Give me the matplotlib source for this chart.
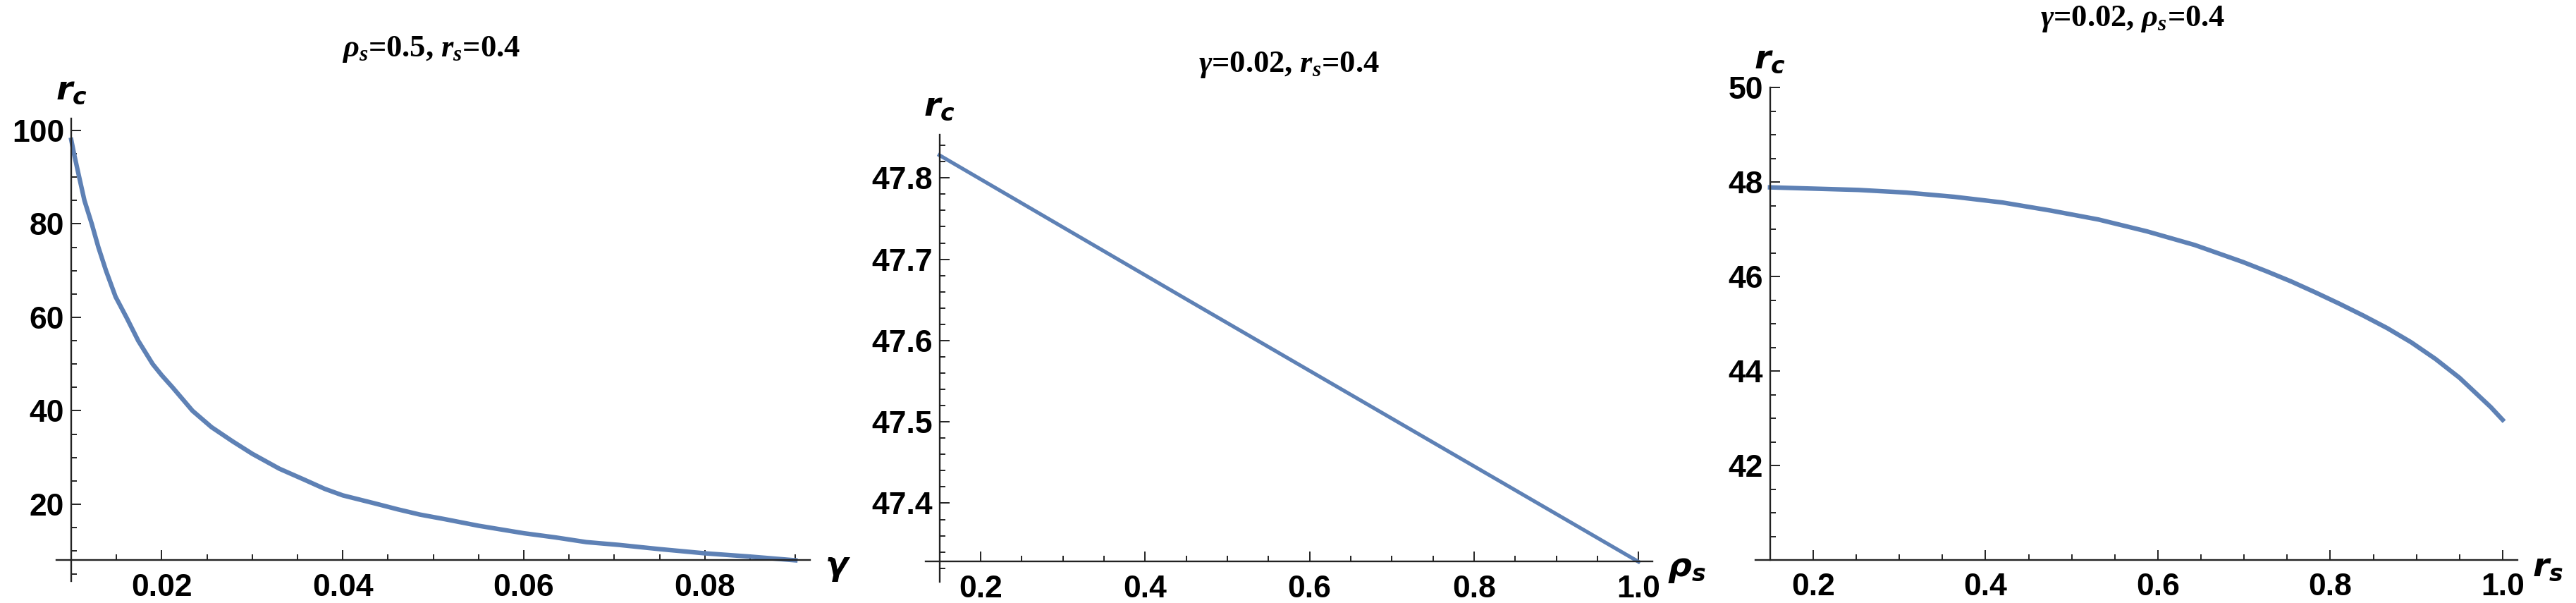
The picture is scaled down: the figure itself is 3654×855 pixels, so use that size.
import matplotlib
matplotlib.use("Agg")
import matplotlib.pyplot as plt
from matplotlib.ticker import FixedLocator, MultipleLocator

# data read off the reference
# panel 1: rho_s = 0.5, r_s = 0.4
gamma = [0.010, 0.01031, 0.01088, 0.01146, 0.01227, 0.01300, 0.01384, 0.0149, 0.0161,
         0.0174, 0.0190, 0.0200, 0.0212, 0.0234, 0.0255, 0.0278, 0.0300, 0.0330,
         0.0357, 0.0380, 0.0400, 0.0435, 0.0461, 0.0485, 0.0513, 0.0550, 0.0600,
         0.0635, 0.0669, 0.0705, 0.0750, 0.0800, 0.0850, 0.0900]
rc_gamma = [98.0, 95.0, 90.0, 85.0, 80.0, 75.0, 70.0, 64.4, 60.0,
            55.0, 50.0, 47.6, 45.0, 40.0, 36.5, 33.5, 30.8, 27.6,
            25.3, 23.3, 21.9, 20.2, 18.9, 17.8, 16.8, 15.4, 13.8,
            12.9, 11.9, 11.3, 10.4, 9.5, 8.8, 8.0]

# panel 2: gamma = 0.02, r_s = 0.4
rho_s = [0.15, 0.45, 1.0]
rc_rho = [47.828, 47.651, 47.328]

# panel 3: gamma = 0.02, rho_s = 0.4
r_s = [0.15, 0.2521, 0.308, 0.3638, 0.4196, 0.4754, 0.531, 0.5871, 0.6428, 0.6987,
       0.7266, 0.7545, 0.7824, 0.8103, 0.838, 0.8662, 0.894, 0.922, 0.950, 0.9862, 1.0]
rc_rs = [47.89, 47.836, 47.78, 47.69, 47.57, 47.40, 47.21, 46.96, 46.67, 46.31,
         46.11, 45.90, 45.67, 45.43, 45.18, 44.91, 44.61, 44.26, 43.86, 43.24, 42.97]

titles = [r"$\rho_s$=0.5, $r_s$=0.4", r"$\gamma$=0.02, $r_s$=0.4", r"$\gamma$=0.02, $\rho_s$=0.4"]
xlabels = [r"$\mathsf{\gamma}$", r"$\mathsf{\rho_s}$", r"$\mathsf{r_s}$"]
ylabel = r"$\mathsf{r_c}$"

xticks1 = [0.02, 0.04, 0.06, 0.08]
xticklabels1 = ["0.02", "0.04", "0.06", "0.08"]
yticks1 = [20, 40, 60, 80, 100]
yticklabels1 = ["20", "40", "60", "80", "100"]

xticks23 = [0.2, 0.4, 0.6, 0.8, 1.0]
xticklabels23 = ["0.2", "0.4", "0.6", "0.8", "1.0"]
yticks2 = [47.4, 47.5, 47.6, 47.7, 47.8]
yticklabels2 = ["47.4", "47.5", "47.6", "47.7", "47.8"]
yticks3 = [42, 44, 46, 48, 50]
yticklabels3 = ["42", "44", "46", "48", "50"]

plt.rcParams["mathtext.fontset"] = "custom"
plt.rcParams["mathtext.it"] = "Liberation Serif:italic:bold"
plt.rcParams["mathtext.rm"] = "Liberation Serif:bold"
plt.rcParams["mathtext.sf"] = "DejaVu Sans:italic:bold"

W, H = 3655, 855
LINE = "#5E81B5"
AX = "#222222"

fig = plt.figure(figsize=(W / 100, H / 100), dpi=100)


def add_panel(left, right, top, bottom):
    # pixel box -> figure fraction
    return fig.add_axes([left / W, 1 - bottom / H, (right - left) / W, (bottom - top) / H])


def style(ax, xlim, ylim, x0, y0, xt, xtl, xminor, yt, ytl, yminor, xlab):
    ax.set_xlim(*xlim)
    ax.set_ylim(*ylim)
    ax.patch.set_visible(False)
    for s in ["top", "right"]:
        ax.spines[s].set_visible(False)
    ax.spines["left"].set_position(("data", x0))
    ax.spines["bottom"].set_position(("data", y0))
    for s in ["left", "bottom"]:
        ax.spines[s].set_linewidth(1.7)
        ax.spines[s].set_color(AX)
    ax.xaxis.set_major_locator(FixedLocator(xt))
    ax.set_xticklabels(xtl)
    ax.xaxis.set_minor_locator(MultipleLocator(xminor))
    ax.yaxis.set_major_locator(FixedLocator(yt))
    ax.set_yticklabels(ytl)
    ax.yaxis.set_minor_locator(MultipleLocator(yminor))
    ax.tick_params(which="both", direction="in", color=AX, width=1.4)
    ax.tick_params(which="major", length=10)
    ax.tick_params(which="minor", length=6)
    ax.tick_params(axis="x", which="major", pad=13)
    ax.tick_params(axis="y", which="major", pad=7)
    for lab in ax.get_xticklabels() + ax.get_yticklabels():
        lab.set_fontfamily("Liberation Sans")
        lab.set_fontweight("bold")
        lab.set_fontsize(32)
    ax.annotate(ylabel, xy=(x0, 1), xycoords=("data", "axes fraction"),
                xytext=(0, 13), textcoords="offset points",
                ha="center", va="bottom", fontsize=34)
    ax.annotate(xlab, xy=(1, y0), xycoords=("axes fraction", "data"),
                xytext=(15, -7), textcoords="offset points",
                ha="left", va="center", fontsize=34)


ax1 = add_panel(80.5, 1148.7, 168.4, 824.3)
ax1.plot(gamma, rc_gamma, color=LINE, lw=4.6, solid_joinstyle="round")
style(ax1, (0.0084, 0.0916), (3.5, 102.5), 0.01, 8.0,
      xticks1, xticklabels1, 0.005, yticks1, yticklabels1, 5, xlabels[0])

ax2 = add_panel(1312.7, 2344.0, 191.2, 825.3)
ax2.plot(rho_s, rc_rho, color=LINE, lw=3.8, solid_joinstyle="round")
style(ax2, (0.133, 1.017), (47.303, 47.853), 0.15, 47.328,
      xticks23, xticklabels23, 0.05, yticks2, yticklabels2, 0.02, xlabels[1])

ax3 = add_panel(2490.0, 3570.7, 124.3, 794.3)
ax3.plot(r_s, rc_rs, color=LINE, lw=4.6, solid_joinstyle="round")
style(ax3, (0.133, 1.017), (40, 50), 0.15, 40,
      xticks23, xticklabels23, 0.05, yticks3, yticklabels3, 0.5, xlabels[2])

# titles
for (cx, base), t in zip([(612, 80), (1828, 102), (3025, 37)], titles):
    fig.text(cx / W, 1 - base / H, t, ha="center", va="baseline",
             fontfamily="Liberation Serif", fontweight="bold", fontsize=32)

fig.savefig("out.png", dpi=100)
